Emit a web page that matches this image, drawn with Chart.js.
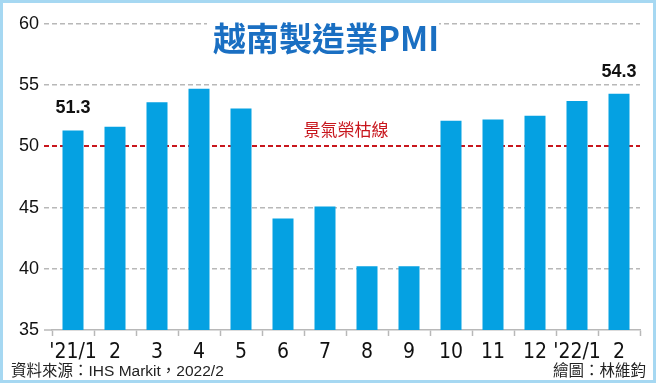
<!DOCTYPE html>
<html>
<head>
<meta charset="utf-8">
<script src="https://cdn.jsdelivr.net/npm/chart.js@4.4.1/dist/chart.umd.min.js"></script>
<style>
  body { margin: 0; background: #fff; }
  canvas { display: block; }
</style>
</head>
<body>
<canvas id="pmi-chart" width="656" height="383"></canvas>
<script>
// Data
const months = ["'21/1", "2", "3", "4", "5", "6", "7", "8", "9", "10", "11", "12", "'22/1", "2"];
const pmiValues = [51.3, 51.6, 53.6, 54.7, 53.1, 44.1, 45.1, 40.2, 40.2, 52.1, 52.2, 52.5, 53.7, 54.3];
const yTicks = [35, 40, 45, 50, 55, 60];
const labelledBars = [0, 13]; // only first and last get a value
const boomBust = 50;

const RED = "#c8161d";
const GRID = "#b8b8b8";
const LATIN = "'Liberation Sans', Arial, sans-serif";
const CJK = "'Liberation Sans', 'Noto Sans CJK TC', sans-serif";

// title, value labels, footer, frame
const extras = {
  id: "extras",
  afterDatasetsDraw(chart) {
    const ctx = chart.ctx;
    const meta = chart.getDatasetMeta(0);
    const x = chart.scales.x;
    const y = chart.scales.y;
    ctx.save();

    // values above first/last bar
    ctx.font = "bold 18px " + LATIN;
    ctx.fillStyle = "#111";
    ctx.textAlign = "center";
    ctx.textBaseline = "middle";
    labelledBars.forEach(i => {
      const bar = meta.data[i];
      ctx.fillText(pmiValues[i].toFixed(1), bar.x, bar.y - 22);
    });

    // boom-bust line label
    ctx.font = "17px " + CJK;
    ctx.fillStyle = RED;
    const lx = (x.getPixelForValue(6) + x.getPixelForValue(7)) / 2;
    ctx.fillText("景氣榮枯線", lx, y.getPixelForValue(boomBust) - 15);

    // the x axis line runs a bit left of the plot
    ctx.strokeStyle = GRID;
    ctx.lineWidth = 1.5;
    ctx.beginPath();
    ctx.moveTo(44, y.getPixelForValue(35));
    ctx.lineTo(x.left, y.getPixelForValue(35));
    ctx.stroke();

    // title on a white patch over the top gridline
    ctx.fillStyle = "#fff";
    ctx.fillRect(207, 14, 232, 46);
    ctx.font = "bold 33px 'Liberation Sans Narrow', 'Noto Sans CJK TC', sans-serif";
    ctx.fillStyle = "#1a6fc2";
    ctx.fillText("越南製造業PMI", 326, 38);

    // footer
    ctx.font = "15.5px " + CJK;
    ctx.fillStyle = "#222";
    ctx.textAlign = "left";
    ctx.fillText("資料來源：IHS Markit，2022/2", 11, 372);
    ctx.textAlign = "right";
    ctx.fillText("繪圖：林維鈞", 646, 372);

    // light blue frame
    ctx.strokeStyle = "#a6d8f2";
    ctx.lineWidth = 3;
    ctx.strokeRect(1.5, 1.5, 653, 380);
    ctx.restore();
  }
};

new Chart(document.getElementById("pmi-chart"), {
  type: "bar",
  data: {
    labels: months,
    datasets: [{
      data: pmiValues,
      backgroundColor: "#05a1e2",
      barPercentage: 0.5,
      categoryPercentage: 1
    }]
  },
  options: {
    responsive: false,
    animation: false,
    layout: { padding: { top: 24, right: 16, left: 0, bottom: 0 } },
    plugins: {
      legend: { display: false },
      tooltip: { enabled: false }
    },
    scales: {
      x: {
        grid: {
          drawOnChartArea: false,
          drawTicks: true,
          tickLength: 6,
          tickColor: GRID,
          tickWidth: 1.5
        },
        border: { display: true, color: GRID, width: 1.5 },
        ticks: {
          color: "#111",
          padding: 4,
          maxRotation: 0,
          autoSkip: false,
          font: { family: "'Liberation Sans Narrow', 'DejaVu Sans Condensed', sans-serif", size: 21 }
        },
        afterFit(scale) { scale.height = 53; }
      },
      y: {
        min: 35,
        max: 60,
        afterBuildTicks(scale) { scale.ticks = yTicks.map(v => ({ value: v })); },
        grid: {
          color: c => c.tick.value === boomBust ? RED : (c.tick.value === 35 ? "rgba(0,0,0,0)" : GRID),
          lineWidth: c => c.tick.value === boomBust ? 2 : 1.5,
          tickColor: c => c.tick.value === boomBust ? RED : (c.tick.value === 35 ? "rgba(0,0,0,0)" : GRID),
          tickLength: 8,
          tickBorderDash: [5, 3]
        },
        border: { display: false, dash: [5, 3] },
        ticks: {
          color: "#111",
          padding: 5,
          font: { family: LATIN, size: 18 }
        },
        afterFit(scale) { scale.width = 52; }
      }
    }
  },
  plugins: [extras]
});
</script>
</body>
</html>
